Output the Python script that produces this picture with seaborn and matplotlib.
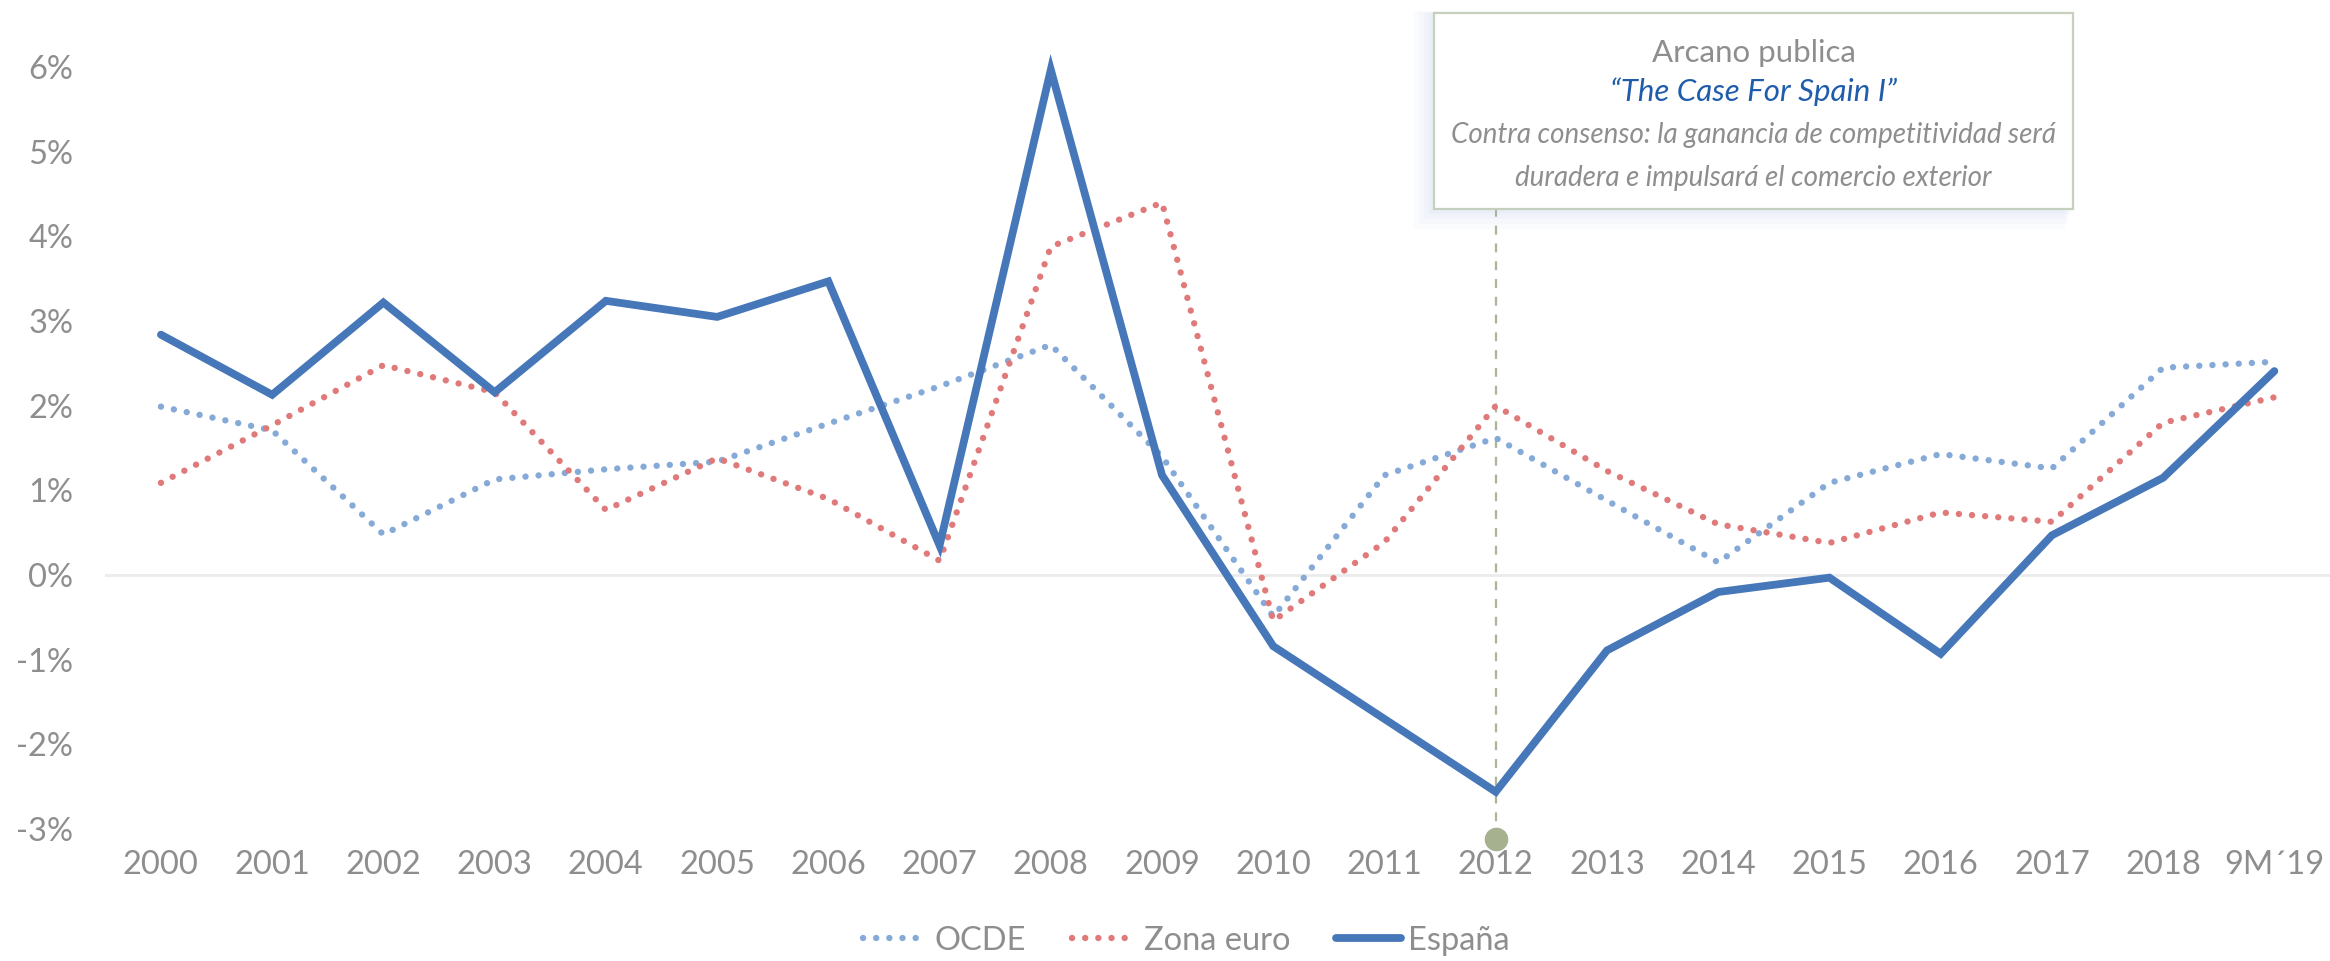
import matplotlib
matplotlib.use("Agg")
import matplotlib.pyplot as plt
from matplotlib.patches import Rectangle
import numpy as np
import pandas as pd
import seaborn as sns

# Annual growth, %
years = ["2000", "2001", "2002", "2003", "2004", "2005", "2006", "2007", "2008", "2009",
         "2010", "2011", "2012", "2013", "2014", "2015", "2016", "2017", "2018", "9M´19"]
ocde = [1.99, 1.71, 0.48, 1.13, 1.25, 1.34, 1.79, 2.23, 2.72, 1.40,
        -0.49, 1.18, 1.62, 0.88, 0.15, 1.09, 1.43, 1.26, 2.45, 2.52]
zona_euro = [1.09, 1.77, 2.48, 2.16, 0.77, 1.38, 0.90, 0.17, 3.88, 4.40,
             -0.54, 0.39, 2.00, 1.23, 0.60, 0.38, 0.74, 0.63, 1.80, 2.10]
espana = [2.84, 2.13, 3.22, 2.16, 3.24, 3.05, 3.47, 0.35, 5.97, 1.18,
          -0.84, -1.70, -2.56, -0.89, -0.20, -0.03, -0.93, 0.47, 1.15, 2.41]
y_ticks = [-3, -2, -1, 0, 1, 2, 3, 4, 5, 6]

highlight_year = "2012"
highlight_marker_y = -3.12
note_title = "Arcano publica"
note_quote = "“The Case For Spain I”"
note_body = ["Contra consenso: la ganancia de competitividad será",
             "duradera e impulsará el comercio exterior"]

GRAY = "#8E8E8E"
C_OCDE = "#86AAD8"
C_EURO = "#E07A7A"
C_ESP = "#4677B8"

sns.set_style("white")
plt.rcParams["font.family"] = ["Lato", "DejaVu Sans"]

fig = plt.figure(figsize=(23.3, 9.61), dpi=100)
ax = fig.add_axes([0.0452, 0.1197, 0.9548, 0.828])

df = pd.DataFrame({"pos": np.arange(len(years)), "OCDE": ocde,
                   "Zona euro": zona_euro, "España": espana})

# zero reference line
ax.axhline(0, color="#EBEBEB", lw=2.0, zorder=1)

sns.lineplot(data=df, x="pos", y="OCDE", ax=ax, color=C_OCDE, lw=4.6,
             linestyle=(0, (0.01, 2.05)), label="OCDE", zorder=3)
ax.lines[-1].set_dash_capstyle("round")
sns.lineplot(data=df, x="pos", y="Zona euro", ax=ax, color=C_EURO, lw=4.6,
             linestyle=(0, (0.01, 2.05)), label="Zona euro", zorder=3)
ax.lines[-1].set_dash_capstyle("round")
sns.lineplot(data=df, x="pos", y="España", ax=ax, color=C_ESP, lw=5.6,
             label="España", zorder=4)
ax.lines[-1].set_solid_joinstyle("miter")

ax.set_xlim(-0.5, len(years) - 0.5)
ax.set_ylim(-3.2, 6.2)
ax.set_xticks(np.arange(len(years)))
ax.set_xticklabels(years)
ax.set_yticks(y_ticks)
ax.set_yticklabels([f"{v}%" for v in y_ticks])
ax.tick_params(axis="both", length=0, labelsize=23.5, colors=GRAY)
ax.tick_params(axis="y", pad=23)
ax.tick_params(axis="x", pad=3)
ax.set_xlabel("")
ax.set_ylabel("")
for s in ax.spines.values():
    s.set_visible(False)

# legend
handles, labels = ax.get_legend_handles_labels()
ax.legend(handles, labels, loc="center", bbox_to_anchor=(0.509, 0.021),
          bbox_transform=fig.transFigure, ncol=3, frameon=False,
          fontsize=23.5, labelcolor=GRAY, handlelength=2.0, handletextpad=0.2,
          columnspacing=1.4)

# callout box
bx, by, bw, bh = 0.6155, 0.7825, 0.2742, 0.204
for i, a in enumerate([0.05, 0.05, 0.06, 0.07]):
    g = (4 - i) * 0.0022
    fig.patches.append(Rectangle((bx - g, by - g * 2.4), bw + g * 0.6, bh + g * 2.6,
                                 transform=fig.transFigure, facecolor="#A9BEDF",
                                 edgecolor="none", alpha=a, zorder=5))
fig.patches.append(Rectangle((bx, by), bw, bh, transform=fig.transFigure,
                             facecolor="white", edgecolor="#C6D0BF", lw=1.6, zorder=6))
cx = bx + bw / 2
fig.text(cx, 1 - 53 / 961, note_title, ha="center", va="center", fontsize=22.5,
         color=GRAY, zorder=7)
fig.text(cx, 1 - 92 / 961, note_quote, ha="center", va="center", fontsize=22.5,
         color="#1F5CAB", style="italic", zorder=7)
fig.text(cx, 1 - 135 / 961, note_body[0], ha="center", va="center", fontsize=20,
         color=GRAY, style="italic", zorder=7)
fig.text(cx, 1 - 178 / 961, note_body[1], ha="center", va="center", fontsize=20,
         color=GRAY, style="italic", zorder=7)

# guide from the highlighted year to the box
hx = years.index(highlight_year)
box_bottom = ax.transData.inverted().transform(fig.transFigure.transform((0, by)))[1]
ax.plot([hx, hx], [highlight_marker_y, box_bottom], color="#ACB596", lw=1.6,
        linestyle=(0, (4, 4)), clip_on=False, zorder=2)
ax.plot([hx], [highlight_marker_y], "o", ms=16, color="#A6B18F", clip_on=False, zorder=5)

fig.savefig("out.png", dpi=100)
